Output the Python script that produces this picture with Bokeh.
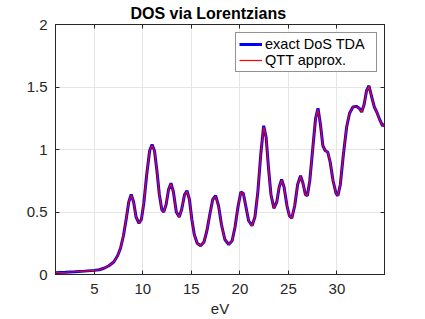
from bokeh.plotting import figure
from bokeh.models import Range1d, FixedTicker, LinearAxis, Legend, LegendItem
from bokeh.embed import file_html
from bokeh.resources import INLINE

# energies (eV) and DOS values
energy = [1.0, 2.0, 3.0, 4.0, 5.0, 5.5, 6.0, 6.5, 7.0, 7.4, 7.7, 8.0, 8.3, 8.55, 8.8,
          9.05, 9.3, 9.6, 9.85, 10.1, 10.4, 10.7, 10.95, 11.2, 11.45, 11.7, 11.95,
          12.15, 12.4, 12.65, 12.9, 13.15, 13.45, 13.75, 14.0, 14.3, 14.55, 14.8,
          15.05, 15.3, 15.6, 15.95, 16.3, 16.6, 16.9, 17.2, 17.5, 17.8, 18.1, 18.45,
          18.85, 19.2, 19.5, 19.8, 20.1, 20.35, 20.6, 20.9, 21.25, 21.55, 21.85,
          22.15, 22.45, 22.7, 22.95, 23.2, 23.5, 23.8, 24.05, 24.3, 24.55, 24.85,
          25.1, 25.35, 25.65, 25.95, 26.25, 26.5, 26.75, 26.95, 27.2, 27.5, 27.8,
          28.05, 28.3, 28.55, 28.8, 29.05, 29.3, 29.6, 29.9, 30.1, 30.35, 30.65,
          31.0, 31.3, 31.65, 32.0, 32.3, 32.55, 32.8, 33.05, 33.3, 33.55, 33.85,
          34.1, 34.4, 34.7, 34.9]
dos_exact = [0.015, 0.018, 0.022, 0.027, 0.033, 0.038, 0.05, 0.07, 0.10, 0.15, 0.21,
             0.31, 0.45, 0.58, 0.64, 0.58, 0.46, 0.41, 0.44, 0.57, 0.80, 0.99, 1.04,
             0.99, 0.83, 0.64, 0.52, 0.50, 0.56, 0.68, 0.73, 0.66, 0.50, 0.46, 0.52,
             0.64, 0.67, 0.60, 0.44, 0.32, 0.25, 0.23, 0.26, 0.35, 0.48, 0.60, 0.63,
             0.55, 0.40, 0.28, 0.24, 0.27, 0.38, 0.54, 0.66, 0.65, 0.55, 0.43, 0.39,
             0.46, 0.66, 0.96, 1.19, 1.10, 0.85, 0.64, 0.53, 0.58, 0.70, 0.76, 0.70,
             0.55, 0.47, 0.45, 0.55, 0.72, 0.79, 0.73, 0.64, 0.63, 0.75, 1.00, 1.25,
             1.33, 1.20, 1.03, 0.99, 0.98, 0.90, 0.75, 0.65, 0.63, 0.72, 0.95, 1.18,
             1.29, 1.34, 1.345, 1.33, 1.30, 1.36, 1.47, 1.51, 1.43, 1.34, 1.30, 1.24,
             1.19, 1.20]
dos_qtt = [0.015, 0.018, 0.022, 0.027, 0.033, 0.038, 0.05, 0.07, 0.10, 0.15, 0.21,
           0.31, 0.45, 0.58, 0.635, 0.58, 0.46, 0.41, 0.44, 0.57, 0.80, 0.99, 1.035,
           0.99, 0.83, 0.64, 0.52, 0.50, 0.56, 0.68, 0.725, 0.66, 0.50, 0.46, 0.52,
           0.64, 0.665, 0.60, 0.44, 0.32, 0.25, 0.23, 0.26, 0.35, 0.48, 0.60, 0.625,
           0.55, 0.40, 0.28, 0.24, 0.27, 0.38, 0.54, 0.655, 0.65, 0.55, 0.43, 0.39,
           0.46, 0.66, 0.96, 1.18, 1.10, 0.85, 0.64, 0.53, 0.58, 0.70, 0.755, 0.70,
           0.55, 0.47, 0.45, 0.55, 0.72, 0.785, 0.73, 0.64, 0.63, 0.75, 1.00, 1.25,
           1.32, 1.20, 1.03, 0.99, 0.98, 0.90, 0.75, 0.65, 0.63, 0.72, 0.95, 1.18,
           1.29, 1.34, 1.34, 1.33, 1.30, 1.36, 1.47, 1.505, 1.43, 1.34, 1.30, 1.24,
           1.19, 1.20]

x_ticks = [5, 10, 15, 20, 25, 30]
y_ticks = [0, 0.5, 1, 1.5, 2]
y_tick_labels = ["0", "0.5", "1", "1.5", "2"]
title_text = "DOS via Lorentzians"
x_label = "eV"
series_names = ["exact DoS TDA", "QTT approx."]

FONT = "Liberation Sans"
AX = "#262626"

p = figure(width=425, height=319, output_backend="svg", toolbar_location=None,
           x_range=Range1d(1, 34.9), y_range=Range1d(0, 2),
           min_border_left=55, min_border_right=41, min_border_top=24,
           min_border_bottom=45, background_fill_color="white",
           border_fill_color="white")

p.title.text = title_text
p.title.text_font = FONT
p.title.text_font_size = "16px"
p.title.text_font_style = "bold"
p.title.text_color = "black"
p.title.align = "left"
p.title.offset = 75
p.title.standoff = 5

p.outline_line_color = AX
p.outline_line_width = 1

for ax in (p.xaxis[0], p.yaxis[0]):
    ax.major_label_text_font = FONT
    ax.major_label_text_font_size = "15px"
    ax.major_label_text_color = AX
    ax.axis_line_color = AX
    ax.major_tick_line_color = AX
    ax.major_tick_in = 4
    ax.major_tick_out = 0
    ax.minor_tick_line_color = None

p.xaxis[0].ticker = FixedTicker(ticks=x_ticks)
p.yaxis[0].ticker = FixedTicker(ticks=y_ticks)
p.yaxis[0].major_label_overrides = {t: l for t, l in zip(y_ticks, y_tick_labels)}
p.xaxis[0].major_label_standoff = 9
p.yaxis[0].major_label_standoff = 8
p.xaxis[0].axis_label = x_label
p.xaxis[0].axis_label_text_font = FONT
p.xaxis[0].axis_label_text_font_size = "15px"
p.xaxis[0].axis_label_text_font_style = "normal"
p.xaxis[0].axis_label_text_color = AX
p.xaxis[0].axis_label_standoff = 3

# box axes (top/right) with inward ticks, labels not drawn
top = LinearAxis(ticker=FixedTicker(ticks=x_ticks), major_label_text_font_size="1px",
                 major_label_text_color=None,
                 major_tick_in=4, major_tick_out=0, minor_tick_line_color=None,
                 axis_line_color=AX, major_tick_line_color=AX, major_label_standoff=0)
right = LinearAxis(ticker=FixedTicker(ticks=y_ticks), major_label_text_font_size="1px",
                   major_label_text_color=None,
                   major_tick_in=4, major_tick_out=0, minor_tick_line_color=None,
                   axis_line_color=AX, major_tick_line_color=AX, major_label_standoff=0)
p.add_layout(top, "above")
p.add_layout(right, "right")

p.xgrid.ticker = FixedTicker(ticks=x_ticks)
p.ygrid.ticker = FixedTicker(ticks=y_ticks)
p.grid.grid_line_color = "#e6e6e6"
p.grid.grid_line_width = 1

r1 = p.line(energy, dos_exact, line_color="#0000ff", line_width=3)
r2 = p.line(energy, dos_qtt, line_color="#ff0000", line_width=1.2)

legend = Legend(items=[LegendItem(label=series_names[0], renderers=[r1]),
                       LegendItem(label=series_names[1], renderers=[r2])],
                location=(180, 202))
legend.label_text_font = FONT
legend.label_text_font_size = "14.5px"
legend.label_text_color = "black"
legend.label_height = 16
legend.glyph_height = 16
legend.glyph_width = 23
legend.label_standoff = 3
legend.label_width = 108
legend.padding = 3
legend.spacing = 0
legend.margin = 0
legend.border_line_color = "#262626"
legend.border_line_width = 1
legend.background_fill_color = "white"
legend.background_fill_alpha = 1
p.add_layout(legend, "center")

open("out.html", "w").write(file_html(p, INLINE))
